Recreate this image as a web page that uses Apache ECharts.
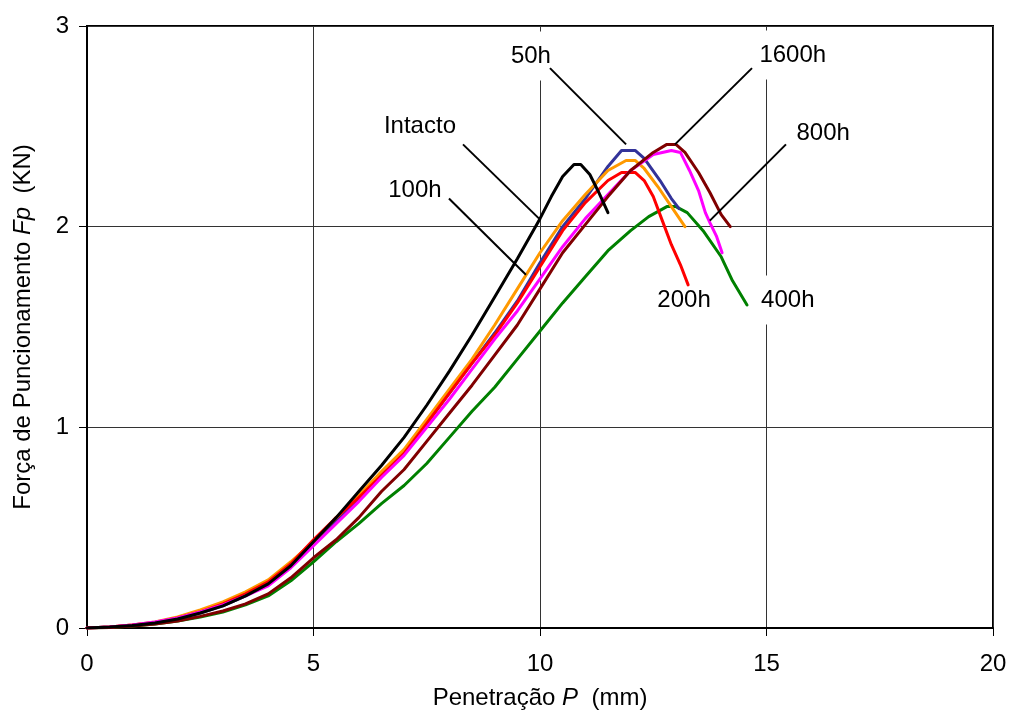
<!DOCTYPE html>
<html>
<head>
<meta charset="utf-8">
<script src="https://cdn.jsdelivr.net/npm/echarts@6/dist/echarts.min.js"></script>
<style>
  html, body { margin: 0; padding: 0; background: #fff; }
  #chart { width: 1009px; height: 711px; }
</style>
</head>
<body>
<div id="chart"></div>
<script>
// Penetração P (mm) vs Força de Puncionamento Fp (KN) for each ageing time
const intactoX = [0, 0.5, 1, 1.5, 2, 2.5, 3, 3.5, 4, 4.5, 5, 5.5, 6, 6.5, 7, 7.5, 8, 8.5, 9, 9.5, 10, 10.25, 10.5, 10.75, 10.9, 11.1, 11.3, 11.5];
const intactoY = [0, 0.005, 0.013, 0.025, 0.045, 0.075, 0.11, 0.16, 0.22, 0.31, 0.43, 0.55, 0.68, 0.81, 0.95, 1.11, 1.28, 1.46, 1.65, 1.84, 2.04, 2.15, 2.25, 2.31, 2.31, 2.26, 2.17, 2.07];

const h50X = [0, 0.5, 1, 1.5, 2, 2.5, 3, 3.5, 4, 4.5, 5, 5.5, 6, 6.5, 7, 7.5, 8, 8.5, 9, 9.5, 10, 10.5, 11, 11.5, 11.8, 12.1, 12.3, 12.65, 12.9, 13.07];
const h50Y = [0, 0.005, 0.013, 0.025, 0.047, 0.075, 0.11, 0.16, 0.22, 0.31, 0.42, 0.53, 0.64, 0.76, 0.87, 1.02, 1.17, 1.32, 1.47, 1.63, 1.82, 2.00, 2.14, 2.30, 2.38, 2.38, 2.34, 2.23, 2.14, 2.09];

const h100X = [0, 0.5, 1, 1.5, 2, 2.5, 3, 3.5, 4, 4.5, 5, 5.5, 6, 6.5, 7, 7.5, 8, 8.5, 9, 9.5, 10, 10.5, 11, 11.5, 11.9, 12.1, 12.3, 12.6, 12.9, 13.2];
const h100Y = [0, 0.005, 0.015, 0.03, 0.055, 0.09, 0.13, 0.18, 0.24, 0.33, 0.43, 0.55, 0.66, 0.78, 0.89, 1.04, 1.19, 1.34, 1.51, 1.69, 1.87, 2.03, 2.16, 2.28, 2.33, 2.33, 2.29, 2.20, 2.10, 2.00];

const h200X = [0, 0.5, 1, 1.5, 2, 2.5, 3, 3.5, 4, 4.5, 5, 5.5, 6, 6.5, 7, 7.5, 8, 8.5, 9, 9.5, 10, 10.5, 11, 11.5, 11.8, 12.1, 12.3, 12.5, 12.7, 12.9, 13.1, 13.27];
const h200Y = [0, 0.005, 0.015, 0.028, 0.05, 0.08, 0.12, 0.17, 0.23, 0.32, 0.44, 0.55, 0.65, 0.76, 0.87, 1.02, 1.17, 1.32, 1.46, 1.62, 1.80, 1.98, 2.12, 2.23, 2.27, 2.27, 2.23, 2.15, 2.03, 1.91, 1.81, 1.71];

const h400X = [0, 0.5, 1, 1.5, 2, 2.5, 3, 3.5, 4, 4.5, 5, 5.5, 6, 6.5, 7, 7.5, 8, 8.5, 9, 9.5, 10, 10.5, 11, 11.5, 12, 12.4, 12.8, 13.0, 13.25, 13.6, 14.0, 14.25, 14.57];
const h400Y = [0, 0.003, 0.01, 0.02, 0.035, 0.055, 0.08, 0.115, 0.16, 0.235, 0.33, 0.43, 0.52, 0.62, 0.71, 0.82, 0.95, 1.08, 1.20, 1.34, 1.48, 1.62, 1.75, 1.88, 1.98, 2.05, 2.10, 2.10, 2.07, 1.98, 1.85, 1.73, 1.61];

const h800X = [0, 0.5, 1, 1.5, 2, 2.5, 3, 3.5, 4, 4.5, 5, 5.5, 6, 6.5, 7, 7.5, 8, 8.5, 9, 9.5, 10, 10.5, 11, 11.5, 12, 12.5, 12.9, 13.1, 13.3, 13.5, 13.65, 13.75, 13.9, 14.02];
const h800Y = [0, 0.005, 0.015, 0.03, 0.05, 0.08, 0.115, 0.16, 0.21, 0.30, 0.41, 0.52, 0.63, 0.75, 0.86, 1.00, 1.14, 1.29, 1.44, 1.58, 1.74, 1.90, 2.04, 2.16, 2.28, 2.36, 2.38, 2.37, 2.28, 2.18, 2.07, 2.02, 1.95, 1.87];

const h1600X = [0, 0.5, 1, 1.5, 2, 2.5, 3, 3.5, 4, 4.5, 5, 5.5, 6, 6.5, 7, 7.5, 8, 8.5, 9, 9.5, 10, 10.5, 11, 11.5, 12, 12.5, 12.8, 13.0, 13.2, 13.5, 13.75, 14.0, 14.2];
const h1600Y = [0, 0.003, 0.01, 0.02, 0.035, 0.058, 0.085, 0.12, 0.17, 0.25, 0.35, 0.44, 0.55, 0.68, 0.79, 0.93, 1.07, 1.21, 1.36, 1.51, 1.69, 1.87, 2.01, 2.15, 2.28, 2.37, 2.41, 2.41, 2.37, 2.27, 2.17, 2.06, 2.00];

const xTicks = [0, 5, 10, 15, 20];
const yTicks = [0, 1, 2, 3];

const FONT = '"Liberation Sans", Arial, sans-serif';

function pairs(xs, ys) { return xs.map((x, i) => [x, ys[i]]); }

const curves = [
  { name: '400h', xs: h400X, ys: h400Y, color: '#008000' },
  { name: '50h', xs: h50X, ys: h50Y, color: '#333399' },
  { name: '100h', xs: h100X, ys: h100Y, color: '#FF9900' },
  { name: '200h', xs: h200X, ys: h200Y, color: '#FF0000' },
  { name: '800h', xs: h800X, ys: h800Y, color: '#FF00FF' },
  { name: '1600h', xs: h1600X, ys: h1600Y, color: '#800000' },
  { name: 'Intacto', xs: intactoX, ys: intactoY, color: '#000000' }
];

// Callout text and leader lines, placed in data coordinates
const callouts = [
  { text: '50h', at: [9.80, 2.85], line: [[10.22, 2.79], [11.90, 2.41]] },
  { text: '1600h', at: [15.58, 2.855], line: [[14.68, 2.79], [12.98, 2.41]] },
  { text: 'Intacto', at: [7.35, 2.50], line: [[8.30, 2.41], [9.98, 2.04]] },
  { text: '800h', at: [16.25, 2.466], line: [[15.43, 2.41], [13.75, 2.03]] },
  { text: '100h', at: [7.24, 2.18], line: [[7.99, 2.14], [9.69, 1.76]] },
  { text: '200h', at: [13.18, 1.634] },
  { text: '400h', at: [15.47, 1.634] }
];

const chart = echarts.init(document.getElementById('chart'), null, { renderer: 'canvas' });

chart.setOption({
  backgroundColor: '#ffffff',
  animation: false,
  textStyle: { fontFamily: FONT },
  grid: {
    left: 87, right: 16, top: 26, bottom: 83,
    outerBoundsMode: 'none',
    containLabel: false,
    show: true, borderColor: '#000', borderWidth: 2, backgroundColor: 'transparent'
  },
  xAxis: {
    type: 'value',
    min: xTicks[0], max: xTicks[xTicks.length - 1], interval: 5,
    name: '{n|Penetração }{i|P}{n|  (mm)}',
    nameLocation: 'middle', nameGap: 58,
    nameTextStyle: {
      rich: {
        n: { fontFamily: FONT, fontSize: 24, color: '#000' },
        i: { fontFamily: FONT, fontSize: 24, color: '#000', fontStyle: 'italic' }
      }
    },
    axisLine: { show: true, onZero: false, lineStyle: { color: '#000', width: 2 } },
    axisTick: { show: true, length: 8, lineStyle: { color: '#000', width: 1 } },
    axisLabel: { fontFamily: FONT, fontSize: 24, color: '#000', margin: 24 },
    splitLine: { show: true, lineStyle: { color: '#333', width: 1 } }
  },
  yAxis: {
    type: 'value',
    min: yTicks[0], max: yTicks[yTicks.length - 1], interval: 1,
    name: '{n|Força de Puncionamento }{i|Fp}{n|  (KN)}',
    nameLocation: 'middle', nameGap: 52, nameRotate: 90,
    nameTextStyle: {
      rich: {
        n: { fontFamily: FONT, fontSize: 24, color: '#000' },
        i: { fontFamily: FONT, fontSize: 24, color: '#000', fontStyle: 'italic' }
      }
    },
    axisLine: { show: true, onZero: false, lineStyle: { color: '#000', width: 2 } },
    axisTick: { show: true, length: 8, lineStyle: { color: '#000', width: 1 } },
    axisLabel: { fontFamily: FONT, fontSize: 24, color: '#000', margin: 18 },
    splitLine: { show: true, lineStyle: { color: '#333', width: 1 } }
  },
  series: curves.map(c => ({
    type: 'line',
    name: c.name,
    data: pairs(c.xs, c.ys),
    showSymbol: false,
    smooth: false,
    z: 2,
    lineStyle: { color: c.color, width: 3, join: 'round', cap: 'round' },
    emphasis: { disabled: true }
  }))
});

// Place callouts once the scales exist
const toPx = p => chart.convertToPixel({ gridIndex: 0 }, p);
const graphics = [];
callouts.forEach(c => {
  const p = toPx(c.at);
  graphics.push({
    type: 'text',
    z: 1,
    x: p[0], y: p[1],
    style: {
      text: c.text,
      fontFamily: FONT, fontSize: 24, fill: '#000',
      align: 'center', verticalAlign: 'middle',
      backgroundColor: '#fff',
      padding: [7, 4, 18, 4]
    }
  });
  if (c.line) {
    const a = toPx(c.line[0]);
    const b = toPx(c.line[1]);
    graphics.push({
      type: 'line',
      z: 3,
      shape: { x1: a[0], y1: a[1], x2: b[0], y2: b[1] },
      style: { stroke: '#000', lineWidth: 2 }
    });
  }
});
chart.setOption({ graphic: graphics });
</script>
</body>
</html>
